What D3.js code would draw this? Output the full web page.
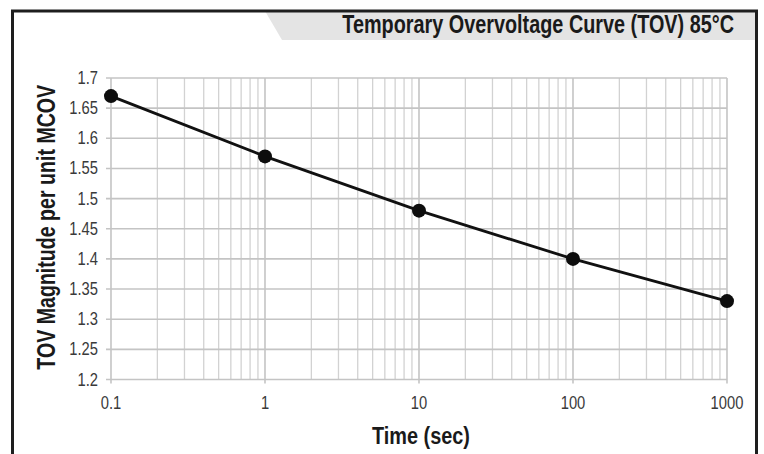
<!DOCTYPE html>
<meta charset="utf-8">
<script src="https://d3js.org/d3.v7.min.js"></script>
<style>
    body { margin: 0; background: #fff; }
    text { font-family: "Liberation Sans", Arial, sans-serif; }
</style>
<div id="my_dataviz"></div>
<script>

    // data
    const times = [0.1, 1, 10, 100, 1000];
    const tovValues = [1.67, 1.57, 1.48, 1.40, 1.33];
    const yTicks = [1.2, 1.25, 1.3, 1.35, 1.4, 1.45, 1.5, 1.55, 1.6, 1.65, 1.7];
    const xTicks = [0.1, 1, 10, 100, 1000];
    const title = "Temporary Overvoltage Curve (TOV) 85°C";

    const W = 764, H = 454;
    const margin = { top: 78, right: 37, bottom: 74.5, left: 111 },
        width = W - margin.left - margin.right,
        height = H - margin.top - margin.bottom;

    // squeeze a label horizontally (fake condensed face) so it is `w` px wide,
    // anchored at (x, y) and optionally rotated
    function narrowText(parent, str, x, y, size, w, opts) {
        opts = opts || {};
        const g = parent.append("g")
            .attr("transform", `translate(${x},${y}) rotate(${opts.rotate || 0})`);
        const t = g.append("text")
            .attr("text-anchor", opts.anchor || "middle")
            .attr("font-size", size)
            .attr("font-weight", opts.weight || "normal")
            .attr("fill", opts.fill || "#1a1a1a")
            .text(str);
        const k = w / t.node().getComputedTextLength();
        t.attr("transform", `scale(${k},1)`);
        return t;
    }

    const root = d3.select("#my_dataviz")
        .append("svg")
        .attr("width", W)
        .attr("height", H);

    // frame + title band
    root.append("path")
        .attr("d", "M265,11 L757,11 L757,40 L282,40 Z")
        .attr("fill", "#e4e4e4");
    root.append("path")
        .attr("d", `M12.5,${H} L12.5,11 L756.5,11 L756.5,${H}`)
        .attr("fill", "none")
        .attr("stroke", "#1e1e1e")
        .attr("stroke-width", 3);
    narrowText(root, title, 734, 33, 26, 392, { anchor: "end", weight: "bold" });

    const svg = root.append("g")
        .attr("transform", `translate(${margin.left},${margin.top})`);

    const x = d3.scaleLog().domain([0.1, 1000]).range([0, width]);
    const y = d3.scaleLinear().domain([1.2, 1.7]).range([height, 0]);

    // minor + major vertical grid
    const minor = [];
    for (let e = -1; e < 3; e++) {
        for (let k = 2; k <= 9; k++) minor.push(k * Math.pow(10, e));
    }
    svg.selectAll(".vminor")
        .data(minor)
        .enter().append("line")
        .attr("x1", d => x(d)).attr("x2", d => x(d))
        .attr("y1", 0).attr("y2", height)
        .attr("stroke", "#d2d2d2")
        .attr("stroke-width", 1.3);
    svg.selectAll(".vmajor")
        .data(xTicks)
        .enter().append("line")
        .attr("x1", d => x(d)).attr("x2", d => x(d))
        .attr("y1", 0).attr("y2", height + 4)
        .attr("stroke", "#c4c4c4")
        .attr("stroke-width", 1.6);
    svg.selectAll(".hgrid")
        .data(yTicks)
        .enter().append("line")
        .attr("x1", -5).attr("x2", width)
        .attr("y1", d => y(d)).attr("y2", d => y(d))
        .attr("stroke", "#c4c4c4")
        .attr("stroke-width", 1.6);

    // tick labels (condensed by a fixed factor)
    const kTick = 0.82;
    yTicks.forEach(d => {
        const s = d3.format("")(d);
        const g = svg.append("g").attr("transform", `translate(${-13},${y(d) + 6})`);
        g.append("text")
            .attr("text-anchor", "end")
            .attr("font-size", 18)
            .attr("fill", "#3a3a3a")
            .attr("transform", `scale(${kTick},1)`)
            .text(s);
    });
    xTicks.forEach(d => {
        const g = svg.append("g").attr("transform", `translate(${x(d)},${height + 29})`);
        g.append("text")
            .attr("text-anchor", "middle")
            .attr("font-size", 18)
            .attr("fill", "#3a3a3a")
            .attr("transform", `scale(${kTick},1)`)
            .text(String(d));
    });

    // axis titles
    narrowText(svg, "Time (sec)", width / 2 + 2, height + 64, 23, 98, { weight: "bold" });
    narrowText(svg, "TOV Magnitude per unit MCOV", -56, height / 2 - 1.5, 25, 285,
        { weight: "bold", rotate: -90 });

    // the curve
    const data = times.map((t, i) => ({ t: t, v: tovValues[i] }));
    svg.append("path")
        .datum(data)
        .attr("fill", "none")
        .attr("stroke", "#111")
        .attr("stroke-width", 2.8)
        .attr("d", d3.line()
            .x(d => x(d.t))
            .y(d => y(d.v)));
    svg.selectAll(".dot")
        .data(data)
        .enter().append("circle")
        .attr("cx", d => x(d.t))
        .attr("cy", d => y(d.v))
        .attr("r", 7)
        .attr("fill", "#0d0d0d");
</script>
